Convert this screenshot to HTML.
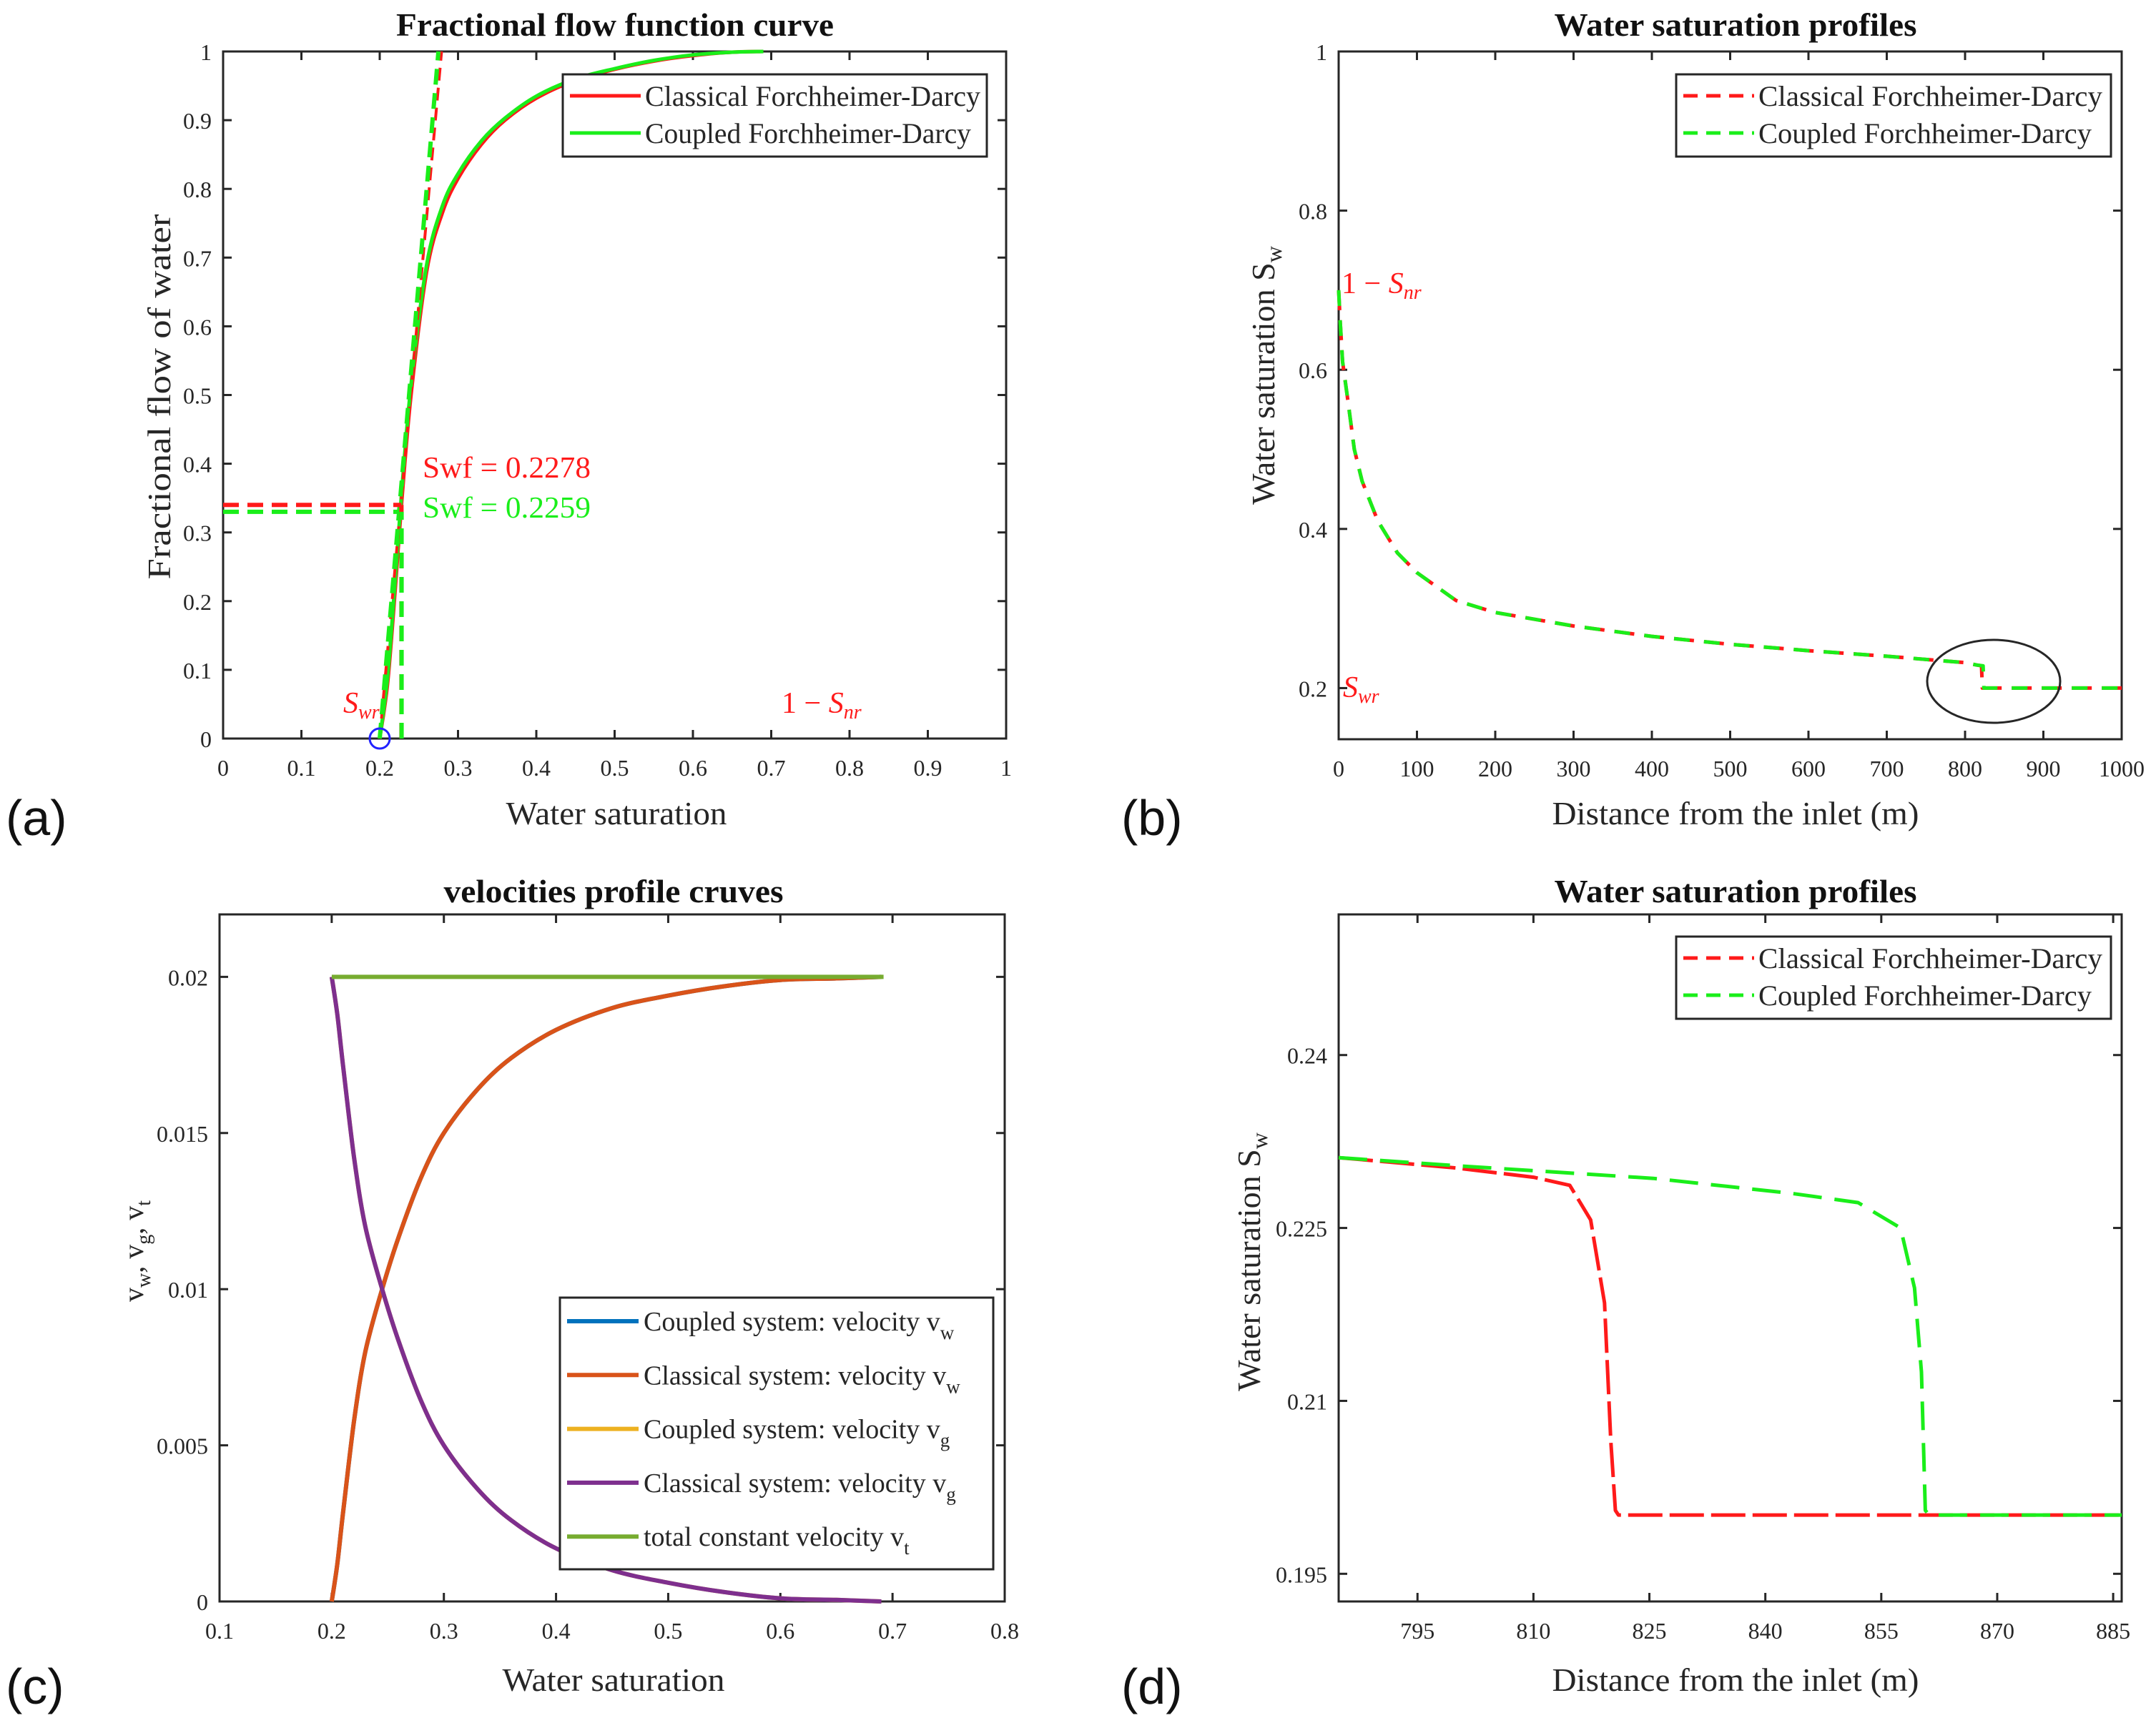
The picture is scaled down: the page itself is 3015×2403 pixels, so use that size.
<!DOCTYPE html>
<html><head><meta charset="utf-8"><style>
html,body{margin:0;padding:0;background:#fff;}
svg{display:block;font-family:"Liberation Serif",serif;}
</style></head>
<body>
<svg id="fig" width="3015" height="2403" viewBox="0 0 3015 2403" xmlns="http://www.w3.org/2000/svg"></svg>
<script>
// ---------- Panel (a) data ----------
const aSw = [0.2,0.21,0.22,0.2278,0.24,0.26,0.28,0.30,0.33,0.36,0.40,0.45,0.50,0.55,0.60,0.65,0.69];
const aFclassical = [0,0.08,0.22,0.34,0.50,0.68,0.765,0.815,0.865,0.90,0.932,0.958,0.974,0.986,0.994,0.999,1.0];
const aFcoupled = [0,0.09,0.235,0.355,0.515,0.69,0.775,0.822,0.870,0.903,0.935,0.960,0.975,0.987,0.995,0.999,1.0];
const aSwf = [0.2278,0.2259];
const aFwf = [0.34,0.33];
const aTangentTop = [0.279,0.275];
const aTicks = [0,0.1,0.2,0.3,0.4,0.5,0.6,0.7,0.8,0.9,1];
const aTickLabels = ["0","0.1","0.2","0.3","0.4","0.5","0.6","0.7","0.8","0.9","1"];
// ---------- Panel (b) data ----------
const bX = [0,2,5,12,20,30,50,75,100,150,200,300,400,500,600,700,800,815,821,822,1000];
const bClassical = [0.70,0.66,0.61,0.56,0.50,0.46,0.41,0.37,0.345,0.31,0.295,0.278,0.265,0.255,0.247,0.240,0.232,0.229,0.228,0.20,0.20];
const bXc = [0,2,5,12,20,30,50,75,100,150,200,300,400,500,600,700,800,815,823,824,1000];
const bCoupled = [0.70,0.66,0.61,0.56,0.50,0.46,0.41,0.37,0.345,0.31,0.295,0.278,0.265,0.255,0.247,0.240,0.232,0.229,0.228,0.20,0.20];
const bXTicks = [0,100,200,300,400,500,600,700,800,900,1000];
const bYTicks = [0.2,0.4,0.6,0.8,1];
const bYLabels = ["0.2","0.4","0.6","0.8","1"];
// ---------- Panel (c) data ----------
const cSw = [0.2,0.205,0.21,0.22,0.23,0.245,0.26,0.28,0.30,0.33,0.36,0.40,0.45,0.50,0.55,0.60,0.65,0.69];
const cVw = [0,0.0012,0.0028,0.0058,0.0080,0.0100,0.0117,0.0136,0.0150,0.0164,0.0174,0.0183,0.0190,0.0194,0.0197,0.0199,0.01995,0.02];
const cVg = [0.02,0.0188,0.0172,0.0142,0.0120,0.0100,0.0083,0.0064,0.0050,0.0036,0.0026,0.0017,0.0010,0.0006,0.0003,0.0001,0.00005,0];
const cVt = [0.02,0.02];
const cVtSw = [0.2,0.692];
const cXTicks = [0.1,0.2,0.3,0.4,0.5,0.6,0.7,0.8];
const cYTicks = [0,0.005,0.01,0.015,0.02];
const cYLabels = ["0","0.005","0.01","0.015","0.02"];
// ---------- Panel (d) data ----------
const dXc = [784.8,790,800,810,814.7,817.4,819.2,820,820.6,821,830,850,870,886.1];
const dClassical = [0.2311,0.2308,0.2302,0.2294,0.2287,0.2257,0.2185,0.2066,0.2005,0.2001,0.2001,0.2001,0.2001,0.2001];
const dXg = [784.8,800,825.5,843.4,852,857.5,859.3,860.2,860.7,861.2,870,886.1];
const dCoupled = [0.2311,0.2304,0.2293,0.2280,0.2272,0.2250,0.2198,0.2125,0.2005,0.2001,0.2001,0.2001];
const dXTicks = [795,810,825,840,855,870,885];
const dYTicks = [0.195,0.21,0.225,0.24];
const dYLabels = ["0.195","0.21","0.225","0.24"];

const NS = "http://www.w3.org/2000/svg";
const svg = document.getElementById('fig');
function mk(tag, attrs, name, parent){
  const el = document.createElementNS(NS, tag);
  for (const k in attrs) el.setAttribute(k, attrs[k]);
  
  
  (parent||svg).appendChild(el);
  return el;
}
function txt(x,y,s,size,name,extra){
  const a = Object.assign({x:x,y:y,'font-size':size,fill:'#262626'}, extra||{});
  const t = mk('text', a, name);
  t.textContent = s;
  return t;
}
function scale(d0,d1,r0,r1){ return v => r0 + (v-d0)/(d1-d0)*(r1-r0); }
function pathD(xs, ys, sx, sy){
  let d='';
  for(let i=0;i<xs.length;i++){ d += (i?'L':'M') + sx(xs[i]).toFixed(1) + ' ' + sy(ys[i]).toFixed(1); }
  return d;
}
function smoothD(xs, ys, sx, sy){
  const P = xs.map((x,i)=>[sx(x), sy(ys[i])]);
  let d = 'M' + P[0][0].toFixed(1) + ' ' + P[0][1].toFixed(1);
  for(let i=0;i<P.length-1;i++){
    const p0 = P[Math.max(0,i-1)], p1 = P[i], p2 = P[i+1], p3 = P[Math.min(P.length-1,i+2)];
    const c1 = [p1[0]+(p2[0]-p0[0])/6, p1[1]+(p2[1]-p0[1])/6];
    const c2 = [p2[0]-(p3[0]-p1[0])/6, p2[1]-(p3[1]-p1[1])/6];
    d += 'C'+c1[0].toFixed(1)+' '+c1[1].toFixed(1)+' '+c2[0].toFixed(1)+' '+c2[1].toFixed(1)+' '+p2[0].toFixed(1)+' '+p2[1].toFixed(1);
  }
  return d;
}
function axes(p, xt, xl, yt, yl, key){
  const g = mk('g', {}, key+'-axes');
  mk('rect', {x:p.x0, y:p.y1, width:p.x1-p.x0, height:p.y0-p.y1, fill:'none', stroke:'#262626','stroke-width':3}, key+'-axes-box', g);
  xt.forEach((v,i)=>{
    const x = p.sx(v);
    mk('line',{x1:x,y1:p.y0,x2:x,y2:p.y0-12,stroke:'#262626','stroke-width':3}, key+'-x-tick', g);
    mk('line',{x1:x,y1:p.y1,x2:x,y2:p.y1+12,stroke:'#262626','stroke-width':3}, key+'-x-tick-top', g);
    txt(x, p.y0+52, xl[i], 32, key+'-x-tick-label', {'text-anchor':'middle'});
  });
  yt.forEach((v,i)=>{
    const y = p.sy(v);
    mk('line',{x1:p.x0,y1:y,x2:p.x0+12,y2:y,stroke:'#262626','stroke-width':3}, key+'-y-tick', g);
    mk('line',{x1:p.x1,y1:y,x2:p.x1-12,y2:y,stroke:'#262626','stroke-width':3}, key+'-y-tick-right', g);
    txt(p.x0-16, y+12, yl[i], 32, key+'-y-tick-label', {'text-anchor':'end'});
  });
}
function series(xs, ys, p, color, w, dash, name, smooth){
  const a = {d:(smooth?smoothD:pathD)(xs,ys,p.sx,p.sy), fill:'none', stroke:color, 'stroke-width':w, 'stroke-linejoin':'round'};
  if (dash) a['stroke-dasharray'] = dash;
  return mk('path', a, name);
}
const RED='#ff1a1a', GRN='#1aee1a';

// ================= Panel A =================
const A = {x0:312,x1:1407,y0:1033,y1:72};
A.sx = scale(0,1,A.x0,A.x1); A.sy = scale(0,1,A.y0,A.y1);
axes(A, aTicks, aTickLabels, aTicks, aTickLabels, 'panel-a');
series(aSw, aFclassical, A, RED, 5, null, 'a-classical-curve', true);
series(aSw, aFcoupled, A, GRN, 5, null, 'a-coupled-curve', true);
series([0.2,aTangentTop[0]],[0,1],A,RED,4,'18 10','a-classical-tangent');
series([0.2,aTangentTop[1]],[0,1],A,GRN,6,'22 12','a-coupled-tangent');
series([0,aSwf[0]],[aFwf[0],aFwf[0]],A,RED,6,'22 12','a-classical-fwf-line');
series([0,aSwf[1]],[aFwf[1],aFwf[1]],A,GRN,6,'22 12','a-coupled-fwf-line');
series([aSwf[0],aSwf[0]],[0,aFwf[0]],A,RED,6,'22 12','a-classical-swf-vline');
series([aSwf[1]+0.002,aSwf[1]+0.002],[0,aFwf[1]],A,GRN,6,'22 12','a-coupled-swf-vline');
mk('circle',{cx:A.sx(0.2),cy:A.sy(0),r:14,fill:'none',stroke:'#2222ff','stroke-width':3},'a-swr-marker');
txt(591,668,'Swf = 0.2278',42,'a-swf-classical-label',{fill:RED,textLength:235,lengthAdjust:'spacingAndGlyphs'});
txt(591,724,'Swf = 0.2259',42,'a-swf-coupled-label',{fill:GRN,textLength:235,lengthAdjust:'spacingAndGlyphs'});
(function(){
  const t = txt(480,997,'',42,'a-swr-label',{fill:RED,'font-style':'italic'});
  t.innerHTML = 'S<tspan font-size="28" dy="8">wr</tspan>';
  const u = txt(1093,997,'',42,'a-snr-label',{fill:RED});
  u.innerHTML = '1 − <tspan font-style="italic">S</tspan><tspan font-style="italic" font-size="28" dy="8">nr</tspan>';
})();
txt(860,50,'Fractional flow function curve',46,'a-title',{'text-anchor':'middle','font-weight':'bold',fill:'#111',textLength:612,lengthAdjust:'spacingAndGlyphs'});
txt(862,1153,'Water saturation',46,'a-x-axis-title',{'text-anchor':'middle',textLength:309,lengthAdjust:'spacingAndGlyphs'});
txt(0,0,'Fractional flow of water',46,'a-y-axis-title',{'text-anchor':'middle',transform:'translate(238,555) rotate(-90)',textLength:511,lengthAdjust:'spacingAndGlyphs'});
mk('rect',{x:787,y:104,width:593,height:115,fill:'#fff',stroke:'#262626','stroke-width':3},'a-legend-box');
mk('line',{x1:797,y1:134,x2:896,y2:134,stroke:RED,'stroke-width':5},'a-legend-classical-line');
mk('line',{x1:797,y1:186,x2:896,y2:186,stroke:GRN,'stroke-width':5},'a-legend-coupled-line');
txt(902,148,'Classical Forchheimer-Darcy',40,'a-legend-classical-label',{textLength:469,lengthAdjust:'spacingAndGlyphs'});
txt(902,200,'Coupled Forchheimer-Darcy',40,'a-legend-coupled-label',{textLength:456,lengthAdjust:'spacingAndGlyphs'});

// ================= Panel B =================
const B = {x0:1872,x1:2967,y0:1034,y1:72};
B.sx = scale(0,1000,B.x0,B.x1); B.sy = scale(0.1357,1,B.y0,B.y1);
axes(B, bXTicks, bXTicks.map(String), bYTicks, bYLabels, 'panel-b');
series(bX, bClassical, B, RED, 5, '28 14', 'b-classical-profile');
series(bXc, bCoupled, B, GRN, 5, '22 20', 'b-coupled-profile');
mk('ellipse',{cx:2788,cy:953,rx:93,ry:58,fill:'none',stroke:'#262626','stroke-width':3},'b-shock-ellipse');
(function(){
  const u = txt(1876,410,'',42,'b-snr-label',{fill:RED});
  u.innerHTML = '1 − <tspan font-style="italic">S</tspan><tspan font-style="italic" font-size="28" dy="8">nr</tspan>';
  const t = txt(1878,975,'',42,'b-swr-label',{fill:RED,'font-style':'italic'});
  t.innerHTML = 'S<tspan font-size="28" dy="8">wr</tspan>';
  const y = txt(0,0,'',46,'b-y-axis-title',{'text-anchor':'middle',transform:'translate(1782,525) rotate(-90)'});
  y.innerHTML = 'Water saturation S<tspan font-size="32" dy="10">w</tspan>';
})();
txt(2427,50,'Water saturation profiles',46,'b-title',{'text-anchor':'middle','font-weight':'bold',fill:'#111',textLength:507,lengthAdjust:'spacingAndGlyphs'});
txt(2427,1153,'Distance from the inlet (m)',46,'b-x-axis-title',{'text-anchor':'middle',textLength:513,lengthAdjust:'spacingAndGlyphs'});
mk('rect',{x:2344,y:104,width:608,height:115,fill:'#fff',stroke:'#262626','stroke-width':3},'b-legend-box');
mk('line',{x1:2354,y1:134,x2:2453,y2:134,stroke:RED,'stroke-width':5,'stroke-dasharray':'20 12'},'b-legend-classical-line');
mk('line',{x1:2354,y1:186,x2:2453,y2:186,stroke:GRN,'stroke-width':5,'stroke-dasharray':'20 12'},'b-legend-coupled-line');
txt(2459,148,'Classical Forchheimer-Darcy',40,'b-legend-classical-label',{textLength:481,lengthAdjust:'spacingAndGlyphs'});
txt(2459,200,'Coupled Forchheimer-Darcy',40,'b-legend-coupled-label',{textLength:466,lengthAdjust:'spacingAndGlyphs'});

// ================= Panel C =================
const C = {x0:307,x1:1405,y0:2240,y1:1279};
C.sx = scale(0.1,0.8,C.x0,C.x1); C.sy = scale(0,0.022,C.y0,C.y1);
axes(C, cXTicks, cXTicks.map(String), cYTicks, cYLabels, 'panel-c');
series(cSw, cVw, C, '#0072BD', 6, null, 'c-coupled-vw', true);
series(cSw, cVw, C, '#D95319', 6, null, 'c-classical-vw', true);
series(cSw, cVg, C, '#EDB120', 6, null, 'c-coupled-vg', true);
series(cSw, cVg, C, '#7E2F8E', 6, null, 'c-classical-vg', true);
series(cVtSw, cVt, C, '#77AC30', 6, null, 'c-total-vt');
txt(858,1262,'velocities profile cruves',46,'c-title',{'text-anchor':'middle','font-weight':'bold',fill:'#111',textLength:475,lengthAdjust:'spacingAndGlyphs'});
txt(858,2365,'Water saturation',46,'c-x-axis-title',{'text-anchor':'middle',textLength:311,lengthAdjust:'spacingAndGlyphs'});
(function(){
  const y = txt(0,0,'',40,'c-y-axis-title',{'text-anchor':'middle',transform:'translate(200,1750) rotate(-90)'});
  y.innerHTML = 'v<tspan font-size="28" dy="10">w</tspan><tspan dy="-10">, v</tspan><tspan font-size="28" dy="10">g</tspan><tspan dy="-10">, v</tspan><tspan font-size="28" dy="10">t</tspan>';
})();
mk('rect',{x:783,y:1815,width:606,height:380,fill:'#fff',stroke:'#262626','stroke-width':3},'c-legend-box');
const cLegNames = ['Coupled system: velocity v','Classical system: velocity v','Coupled system: velocity v','Classical system: velocity v','total constant velocity v'];
const cLegSubs = ['w','w','g','g','t'];
const cLegColors = ['#0072BD','#D95319','#EDB120','#7E2F8E','#77AC30'];
cLegNames.forEach((s,i)=>{
  const y = 1848 + i*75.3;
  mk('line',{x1:793,y1:y,x2:893,y2:y,stroke:cLegColors[i],'stroke-width':6},'c-legend-line');
  const t = txt(900,y+13,'',38,'c-legend-label');
  t.innerHTML = s + '<tspan font-size="27" dy="12">' + cLegSubs[i] + '</tspan>';
});

// ================= Panel D =================
const D = {x0:1872,x1:2967,y0:2240,y1:1279};
D.sx = scale(784.8,886.1,D.x0,D.x1); D.sy = scale(0.1926,0.2522,D.y0,D.y1);
axes(D, dXTicks, dXTicks.map(String), dYTicks, dYLabels, 'panel-d');
series(dXc, dClassical, D, RED, 5, '48 10', 'd-classical-profile');
series(dXg, dCoupled, D, GRN, 5, '40 18', 'd-coupled-profile');
txt(2427,1262,'Water saturation profiles',46,'d-title',{'text-anchor':'middle','font-weight':'bold',fill:'#111',textLength:507,lengthAdjust:'spacingAndGlyphs'});
txt(2427,2365,'Distance from the inlet (m)',46,'d-x-axis-title',{'text-anchor':'middle',textLength:513,lengthAdjust:'spacingAndGlyphs'});
(function(){
  const y = txt(0,0,'',46,'d-y-axis-title',{'text-anchor':'middle',transform:'translate(1762,1765) rotate(-90)'});
  y.innerHTML = 'Water saturation S<tspan font-size="32" dy="10">w</tspan>';
})();
mk('rect',{x:2344,y:1310,width:608,height:115,fill:'#fff',stroke:'#262626','stroke-width':3},'d-legend-box');
mk('line',{x1:2354,y1:1340,x2:2453,y2:1340,stroke:RED,'stroke-width':5,'stroke-dasharray':'20 12'},'d-legend-classical-line');
mk('line',{x1:2354,y1:1392,x2:2453,y2:1392,stroke:GRN,'stroke-width':5,'stroke-dasharray':'20 12'},'d-legend-coupled-line');
txt(2459,1354,'Classical Forchheimer-Darcy',40,'d-legend-classical-label',{textLength:481,lengthAdjust:'spacingAndGlyphs'});
txt(2459,1406,'Coupled Forchheimer-Darcy',40,'d-legend-coupled-label',{textLength:466,lengthAdjust:'spacingAndGlyphs'});

// panel letters
txt(8,1168,'(a)',70,'panel-a-label',{'font-family':'Liberation Sans, sans-serif',fill:'#111'});
txt(1568,1168,'(b)',70,'panel-b-label',{'font-family':'Liberation Sans, sans-serif',fill:'#111'});
txt(8,2383,'(c)',70,'panel-c-label',{'font-family':'Liberation Sans, sans-serif',fill:'#111'});
txt(1568,2383,'(d)',70,'panel-d-label',{'font-family':'Liberation Sans, sans-serif',fill:'#111'});
</script>
</body></html>
